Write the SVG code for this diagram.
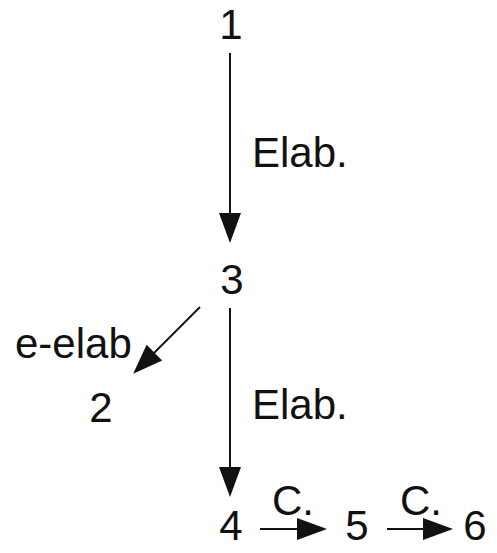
<svg xmlns="http://www.w3.org/2000/svg" width="497" height="553" viewBox="0 0 497 553">
  <style>
    text { font-family: "Liberation Sans", Arial, sans-serif; font-size: 42px; fill: #111; }
    .node { text-anchor: middle; }
    .edge { stroke: #111; stroke-width: 2; fill: none; marker-end: url(#head); }
  </style>
  <defs>
    <marker id="head" markerUnits="userSpaceOnUse" markerWidth="30" markerHeight="22" refX="26" refY="11" orient="auto" overflow="visible">
      <path d="M0,0 L30,11 L0,22 Z" fill="#111"/>
    </marker>
  </defs>
  <g id="connectors">
    <line class="edge" x1="230" y1="53" x2="230" y2="239"/>
    <line class="edge" x1="230" y1="308" x2="230" y2="493"/>
    <line class="edge" x1="200" y1="307" x2="136" y2="371"/>
    <line class="edge" x1="260" y1="529" x2="323" y2="529"/>
    <line class="edge" x1="387" y1="529" x2="449" y2="529"/>
    <text x="252" y="167">Elab.</text>
    <text x="252" y="419">Elab.</text>
    <text x="15" y="358">e-elab</text>
    <text x="272" y="515">C.</text>
    <text x="400" y="515">C.</text>
  </g>
  <g id="n1"><text class="node" x="231" y="39">1</text></g>
  <g id="n3"><text class="node" x="232" y="294">3</text></g>
  <g id="n2"><text class="node" x="101" y="422">2</text></g>
  <g id="n4"><text class="node" x="231" y="540">4</text></g>
  <g id="n5"><text class="node" x="357" y="540">5</text></g>
  <g id="n6"><text class="node" x="475" y="540">6</text></g>
</svg>
